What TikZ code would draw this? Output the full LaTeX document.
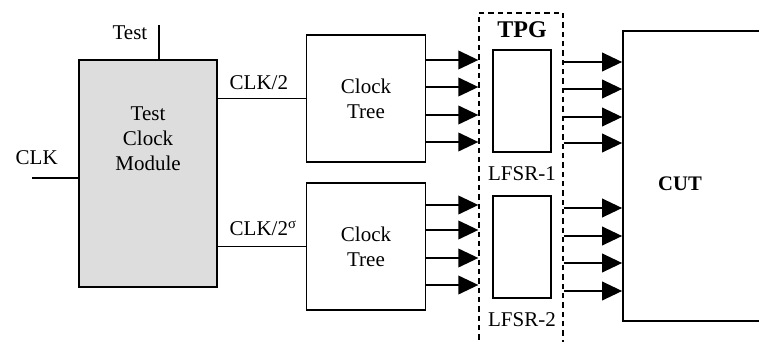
\documentclass[tikz,border=0pt]{standalone}
\usepackage{fontspec}
\setmainfont{Liberation Serif}
\usetikzlibrary{arrows.meta}
\definecolor{modfill}{HTML}{DDDDDD}

\begin{document}
\begin{tikzpicture}[x=0.75pt,y=-0.75pt,
  blk/.style={draw,line width=1.3pt,inner sep=0pt},
  wire/.style={line width=1.2pt},
  arr/.style={line width=1.2pt,-{Triangle[length=15pt,width=14pt]}},
  txt/.style={font=\fontsize{15.75}{18.75}\selectfont}]
\clip (0,0) rectangle (759,342);
% Test clock module
\node[blk,fill=modfill,minimum width=103.5pt,minimum height=170.25pt] (tcm) at (148,173.5) {};
\node[txt,align=center] (tcmlbl) at (148,139) {Test\\Clock\\Module};
\coordinate (testin) at (159,25);
\coordinate (clkin) at (32,178);
\draw[wire] (testin) -- (testin |- tcm.north);
\draw[wire] (clkin) -- (clkin -| tcm.west);
\node[txt,anchor=base east] (testlbl) at (152,40) {Test};
\node[txt,anchor=base west] (clklbl) at (11,164) {CLK};
% Clock trees
\foreach \n/\y in {1/98.5, 2/246.5} {
  \node[blk,txt,align=center,minimum width=89.25pt,minimum height=95.25pt] (tree\n) at (366,\y) {Clock\\Tree};
  \draw[wire] (tcm.east |- tree\n.west) -- (tree\n.west);
}
\node[txt,anchor=base west] (div1lbl) at (225,90) {CLK/2};
\node[txt,anchor=base west] (div2lbl) at (225,235) {CLK/2\textsuperscript{σ}};
% TPG with its two LFSRs
\node[draw,line width=1pt,dash pattern=on 4pt off 3pt,minimum width=63pt,minimum height=270pt] (tpg) at (521,193) {};
\node[font=\fontsize{18}{22}\selectfont\bfseries] (tpglbl) at (522,30) {TPG};
\foreach \n/\y in {1/101, 2/247} {
  \node[blk,minimum width=43.5pt,minimum height=76.5pt] (lfsr\n) at (522,\y) {};
  \node[txt] (lfsrlbl\n) at (522,{\y+72.5}) {LFSR-\n};
}
% Circuit under test
\node[blk,minimum width=103.5pt,minimum height=217.5pt] (cut) at (692,176) {};
\node[font=\fontsize{15.5}{19}\selectfont\bfseries] (cutlbl) at (680,183.5) {CUT};
% Clock lines into the TPG
\foreach \y in {60,87,115,142} \draw[arr] (tree1.east |- 0,\y) -- (tpg.west |- 0,\y);
\foreach \y in {205,230,258,285} \draw[arr] (tree2.east |- 0,\y) -- (tpg.west |- 0,\y);
% Pattern lines into the CUT
\foreach \y in {62,89,117,143,208,236,263,291} \draw[arr] (tpg.east |- 0,\y) -- (cut.west |- 0,\y);
\end{tikzpicture}
\end{document}
